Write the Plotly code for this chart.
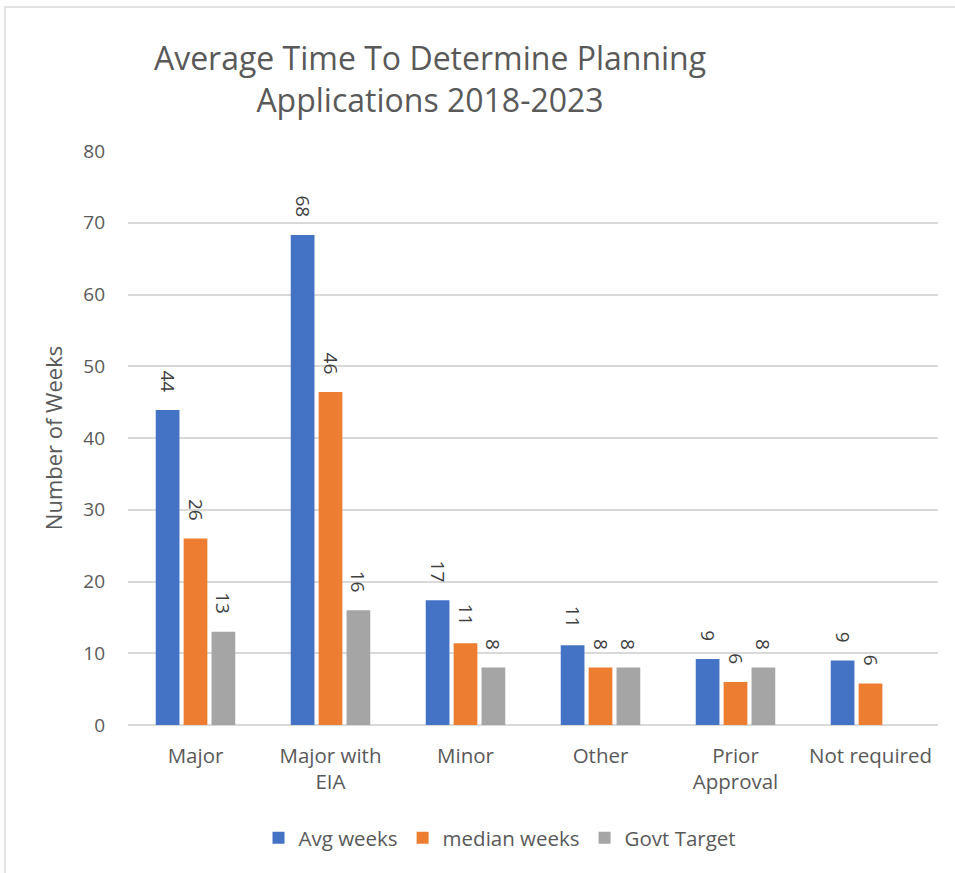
import plotly.graph_objects as go

categories = ["Major", "Major with<br>EIA", "Minor", "Other", "Prior<br>Approval", "Not required"]
avg_weeks = [43.9, 68.3, 17.4, 11.1, 9.2, 9.0]
median_weeks = [26.0, 46.4, 11.4, 8.0, 6.0, 5.8]
govt_target = [13, 16, 8, 8, 8, None]
series_names = ["Avg weeks", "median weeks", "Govt Target"]
colors = ["#4472C4", "#ED7D31", "#A5A5A5"]

W, H = 955, 873
L, R, T, B = 128, 17, 151, 148

fig = go.Figure()
for name, vals, col in zip(series_names, [avg_weeks, median_weeks, govt_target], colors):
    fig.add_trace(go.Bar(
        x=categories, y=vals, name=name,
        marker=dict(color=col, line=dict(width=0)),
        text=[None if v is None else f"{round(v):d}\u00a0\u00a0\u00a0" for v in vals],
        textposition="outside", textangle=90, constraintext="none",
        textfont=dict(family="Open Sans, Liberation Sans, sans-serif", size=19, color="#404040"),
        cliponaxis=False,
    ))

pw = W - L - R
ph = H - T - B
fig.update_layout(
    width=W, height=H,
    margin=dict(l=L, r=R, t=T, b=B),
    paper_bgcolor="white", plot_bgcolor="white",
    barmode="group", bargap=0.38, bargroupgap=0.15,
    uniformtext=dict(minsize=19, mode="show"),
    font=dict(family="Open Sans, Liberation Sans, sans-serif", color="#595959"),
    title=dict(
        text="Average Time To Determine Planning<br>Applications 2018-2023",
        x=(430 - L) / pw + 0.0, xref="paper", xanchor="center",
        y=1 - 70 / H, yanchor="middle",
        font=dict(family="Liberation Sans Narrow, Open Sans, sans-serif", size=32, color="#595959"),
    ),
    yaxis=dict(
        range=[0, 80], dtick=10, showgrid=True, gridcolor="#D9D9D9", gridwidth=1.5,
        zeroline=True, zerolinecolor="#D9D9D9", zerolinewidth=1.5,
        tickfont=dict(size=19, color="#595959"), ticks="", ticklen=0, ticklabelstandoff=22,
        title=dict(text="Number of Weeks", font=dict(size=22, color="#595959"), standoff=14),
    ),
    xaxis=dict(
        tickfont=dict(size=20.5, color="#595959"), showline=False, ticks="", ticklabelstandoff=16,
    ),
    legend=dict(
        orientation="h", x=(500 - L) / pw, xanchor="center",
        y=-(838 - (H - B)) / ph, yanchor="middle",
        font=dict(size=20.5, color="#595959"), itemwidth=30, traceorder="normal",
    ),
    shapes=[dict(
        type="rect", xref="paper", yref="paper",
        x0=(5 - L) / pw, x1=(W + 20 - L) / pw,
        y0=-(H + 20 - (H - B)) / ph, y1=1 + (T - 7) / ph,
        line=dict(color="#D9D9D9", width=1.5), fillcolor="rgba(0,0,0,0)", layer="below",
    )],
)

fig.write_html("out.html")
